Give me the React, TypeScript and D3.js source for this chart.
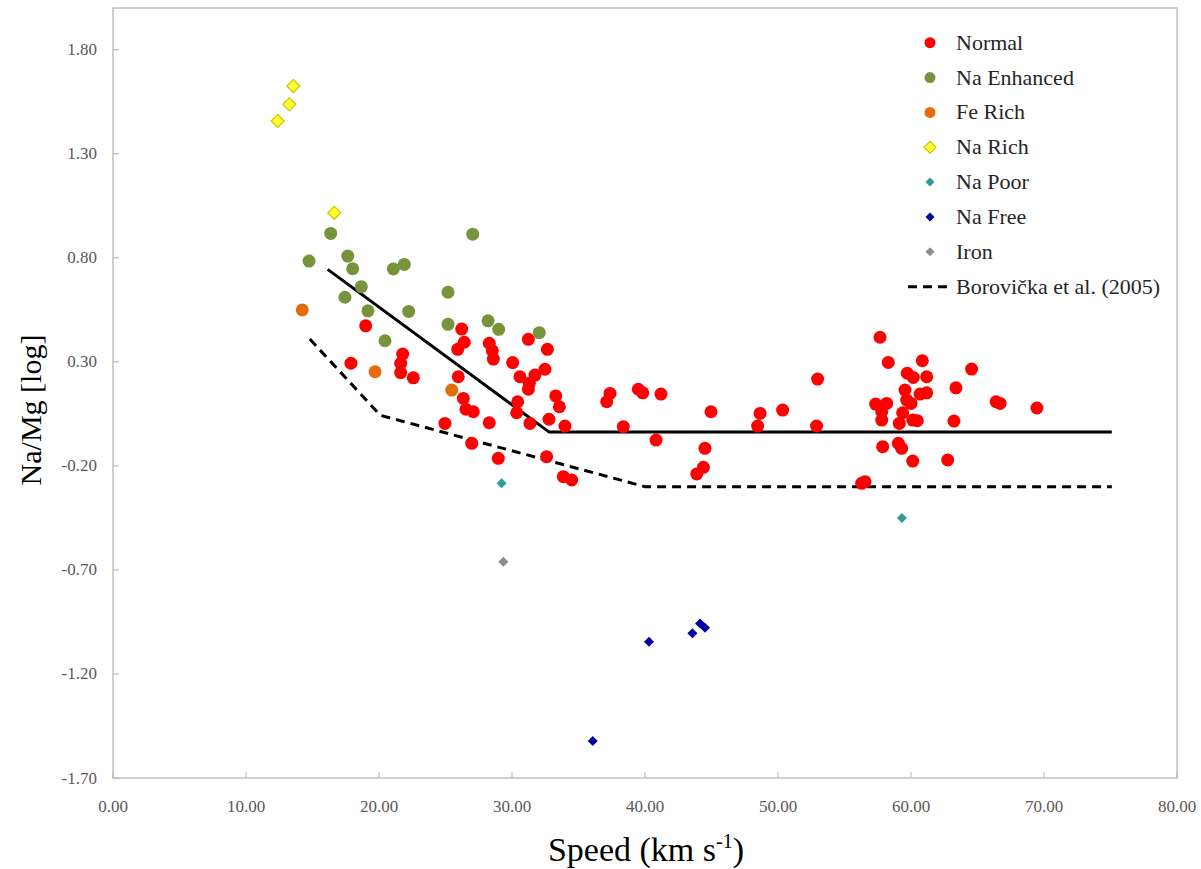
import React from "react";
import * as d3 from "d3";

type P = [number, number];

const normal: P[] = [
  [19.0, 0.473], [17.89, 0.293], [21.78, 0.337], [21.63, 0.293], [21.63, 0.248], [22.58, 0.223],
  [26.22, 0.457], [26.41, 0.394], [25.92, 0.36], [28.29, 0.389], [28.52, 0.353], [28.6, 0.313],
  [25.96, 0.228], [26.34, 0.124], [26.54, 0.072], [27.09, 0.06], [24.96, 0.004], [28.29, 0.007],
  [26.97, -0.092], [28.97, -0.164], [31.23, 0.408], [32.66, 0.36], [30.05, 0.296], [32.48, 0.264],
  [30.6, 0.228], [31.3, 0.197], [31.73, 0.236], [31.23, 0.168], [30.43, 0.108], [30.35, 0.055],
  [31.35, 0.004], [32.78, 0.024], [33.29, 0.136], [33.56, 0.084], [33.98, -0.009], [32.6, -0.156],
  [33.86, -0.252], [34.49, -0.268], [37.37, 0.148], [37.12, 0.108], [38.37, -0.012], [39.5, 0.168],
  [39.83, 0.151], [41.2, 0.145], [40.83, -0.076], [44.96, 0.06], [44.51, -0.116], [44.39, -0.207],
  [43.89, -0.239], [48.65, 0.052], [48.47, -0.009], [50.35, 0.068], [52.98, 0.217], [52.9, -0.009],
  [57.67, 0.418], [58.29, 0.297], [60.85, 0.305], [59.72, 0.245], [60.17, 0.225], [61.18, 0.228],
  [64.56, 0.265], [63.38, 0.175], [59.55, 0.164], [61.18, 0.151], [60.68, 0.145], [59.68, 0.116],
  [57.34, 0.097], [58.17, 0.1], [57.8, 0.06], [57.8, 0.02], [59.37, 0.055], [60.0, 0.1],
  [60.13, 0.02], [60.47, 0.017], [59.12, 0.004], [63.23, 0.015], [66.4, 0.108], [66.7, 0.1],
  [57.87, -0.108], [59.05, -0.092], [59.3, -0.116], [60.13, -0.177], [62.76, -0.172], [56.29, -0.284],
  [56.54, -0.276], [69.47, 0.078],
];

const naEnhanced: P[] = [
  [16.37, 0.917], [27.05, 0.913], [14.74, 0.784], [17.65, 0.808], [18.02, 0.747], [21.08, 0.746],
  [21.9, 0.768], [18.67, 0.661], [17.44, 0.61], [25.19, 0.634], [19.17, 0.545], [22.23, 0.542],
  [25.19, 0.48], [28.2, 0.497], [29.0, 0.456], [32.05, 0.44], [20.45, 0.401],
];

const feRich: P[] = [[14.23, 0.549], [19.7, 0.252], [25.47, 0.164]];

const naRich: P[] = [[12.38, 1.457], [13.26, 1.537], [13.56, 1.625], [16.64, 1.016]];

const naPoor: P[] = [[29.22, -0.284], [59.32, -0.451]];

const naFree: P[] = [[40.3, -1.045], [43.56, -1.005], [44.14, -0.957], [44.51, -0.978], [36.07, -1.522]];

const iron: P[] = [[29.35, -0.661]];

const fitLine: P[] = [[16.14, 0.744], [32.8, -0.038], [75.1, -0.038]];
const borovickaLine: P[] = [[14.8, 0.409], [20.1, 0.043], [40.0, -0.3], [75.1, -0.3]];

const xTicks = [0, 10, 20, 30, 40, 50, 60, 70, 80];
const yTicks = [-1.7, -1.2, -0.7, -0.2, 0.3, 0.8, 1.3, 1.8];

const legendLabels = ["Normal", "Na Enhanced", "Fe Rich", "Na Rich", "Na Poor", "Na Free", "Iron", "Borovička et al. (2005)"];

const W = 1201, H = 869;
const left = 113, right = 1177, top = 8, bottom = 778;

const x = d3.scaleLinear().domain([0, 80]).range([left, right]);
const y = d3.scaleLinear().domain([-1.7, 2.0]).range([bottom, top]);

const serif = "'Liberation Serif', 'Times New Roman', serif";

const diamond = (cx: number, cy: number, r: number) =>
  `M${cx},${cy - r}L${cx + r},${cy}L${cx},${cy + r}L${cx - r},${cy}Z`;

export default function App() {
  const line = d3.line<P>().x(d => x(d[0])).y(d => y(d[1]));

  const circles = (data: P[], fill: string, key: string) =>
    data.map((d, i) => (
      <circle key={key + i} cx={x(d[0])} cy={y(d[1])} r={6.5} fill={fill} />
    ));
  const diamonds = (data: P[], fill: string, r: number, key: string, stroke?: string) =>
    data.map((d, i) => (
      <path key={key + i} d={diamond(x(d[0]), y(d[1]), r)} fill={fill} stroke={stroke || "none"} strokeWidth={stroke ? 1.2 : 0} />
    ));

  const legendY = (i: number) => 42.7 + i * 34.85;
  const lx = 930;

  return (
    <svg width={W} height={H} style={{ position: "absolute", left: 0, top: 0, background: "#fff" }}>
      <rect x={0} y={0} width={W} height={H} fill="#fff" />
      {/* frame */}
      <rect x={left} y={top} width={right - left} height={bottom - top} fill="none" stroke="#bfbfbf" strokeWidth={1.5} />
      {/* ticks */}
      {xTicks.map(t => (
        <g key={"xt" + t}>
          <line x1={x(t)} x2={x(t)} y1={bottom} y2={bottom - 6} stroke="#bfbfbf" strokeWidth={1.2} />
          <text x={x(t)} y={812} textAnchor="middle" fontFamily={serif} fontSize={17} fill="#595959">
            {t.toFixed(2)}
          </text>
        </g>
      ))}
      {yTicks.map(t => (
        <g key={"yt" + t}>
          <line x1={left} x2={left + 6} y1={y(t)} y2={y(t)} stroke="#bfbfbf" strokeWidth={1.2} />
          <text x={97} y={y(t) + 5.5} textAnchor="end" fontFamily={serif} fontSize={17} fill="#595959">
            {t.toFixed(2)}
          </text>
        </g>
      ))}
      {/* axis titles */}
      <text x={646} y={861} textAnchor="middle" fontFamily={serif} fontSize={34} fill="#000">
        Speed (km s<tspan dy={-13} fontSize={20}>-1</tspan><tspan dy={13}>)</tspan>
      </text>
      <text transform={`translate(41,410) rotate(-90)`} textAnchor="middle" fontFamily={serif} fontSize={30} fill="#000">
        Na/Mg [log]
      </text>
      {/* lines */}
      <path d={line(fitLine) || ""} fill="none" stroke="#000" strokeWidth={3} />
      <path d={line(borovickaLine) || ""} fill="none" stroke="#000" strokeWidth={3} strokeDasharray="9,6" />
      {/* points */}
      {circles(normal, "#ff0000", "n")}
      {circles(naEnhanced, "#77933c", "e")}
      {circles(feRich, "#e46c0a", "f")}
      {diamonds(naRich, "#ffff33", 6.5, "r", "#c8c800")}
      {diamonds(naPoor, "#2f9a9a", 5, "p")}
      {diamonds(naFree, "#0000a0", 5, "fr")}
      {diamonds(iron, "#8c8c8c", 5, "i")}
      {/* legend */}
      <g>
        <circle cx={lx} cy={legendY(0)} r={5.5} fill="#ff0000" />
        <circle cx={lx} cy={legendY(1)} r={5.5} fill="#77933c" />
        <circle cx={lx} cy={legendY(2)} r={5.5} fill="#e46c0a" />
        <path d={diamond(lx, legendY(3), 6)} fill="#ffff33" stroke="#c8c800" strokeWidth={1.2} />
        <path d={diamond(lx, legendY(4), 4.5)} fill="#2f9a9a" />
        <path d={diamond(lx, legendY(5), 4.5)} fill="#0000a0" />
        <path d={diamond(lx, legendY(6), 4.5)} fill="#8c8c8c" />
        <line x1={908} x2={949} y1={legendY(7)} y2={legendY(7)} stroke="#000" strokeWidth={3} strokeDasharray="9,6" />
        {legendLabels.map((l, i) => (
          <text key={l} x={956} y={legendY(i) + 7} fontFamily={serif} fontSize={22} fill="#262626">
            {l}
          </text>
        ))}
      </g>
    </svg>
  );
}
